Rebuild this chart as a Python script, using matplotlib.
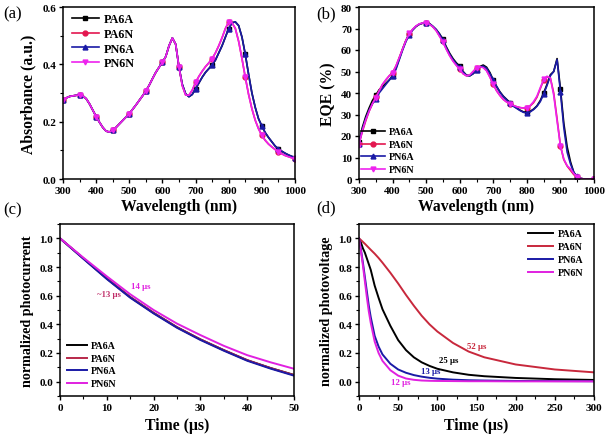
import numpy as np
import matplotlib.pyplot as plt

plt.rcParams['font.family'] = ['Liberation Serif', 'DejaVu Serif']
plt.rcParams['font.weight'] = 'bold'

names = ['PA6A', 'PA6N', 'PN6A', 'PN6N']
colors = ['#000000', '#e3174f', '#1a1aa6', '#ee22ee']
markers = ['s', 'o', '^', 'v']

# (a) absorbance, 300-1000 nm in 10 nm steps
wl = np.arange(300, 1001, 10)
abs_common = [0.275, 0.283, 0.288, 0.290, 0.292, 0.293, 0.290, 0.280, 0.262, 0.240,
              0.218, 0.198, 0.180, 0.167, 0.164, 0.170, 0.180, 0.192, 0.204, 0.216,
              0.228, 0.243, 0.258, 0.274, 0.290, 0.307, 0.327, 0.350, 0.372, 0.390,
              0.407, 0.427, 0.465, 0.492, 0.470, 0.390]
abs_A_tail = [0.330, 0.297, 0.287, 0.295, 0.315, 0.335, 0.355, 0.372, 0.385, 0.398,
              0.415, 0.440, 0.465, 0.495, 0.525, 0.545, 0.548, 0.535, 0.495, 0.435,
              0.365, 0.300, 0.250, 0.210, 0.185, 0.162, 0.145, 0.130, 0.115, 0.105,
              0.097, 0.090, 0.084, 0.079, 0.075]
abs_N_tail = [0.325, 0.293, 0.292, 0.310, 0.337, 0.358, 0.376, 0.392, 0.405, 0.420,
              0.440, 0.465, 0.493, 0.525, 0.548, 0.545, 0.525, 0.480, 0.420, 0.355,
              0.295, 0.245, 0.205, 0.175, 0.152, 0.135, 0.122, 0.112, 0.103, 0.095,
              0.088, 0.082, 0.078, 0.074, 0.070]
abs_PA6A = abs_common + abs_A_tail
abs_PA6N = abs_common + abs_N_tail
abs_PN6A = abs_common + abs_A_tail
abs_PN6N = abs_common + abs_N_tail

# (b) EQE (%)
eqe_PA6A = [17, 24, 29, 33, 36.5, 39, 41.5, 43, 44.5, 46,
            48, 51.5, 56, 60.5, 64.5, 67.5, 69.5, 71, 72, 72.5,
            72.7, 72.3, 71, 69.5, 67.5, 65, 61.5, 58.5, 56, 54,
            52.5, 50, 48.3, 48, 49, 50.5, 52.3, 53, 52, 49.5,
            46, 43, 40.5, 38.5, 37, 35.5, 34, 33, 32, 31.2,
            31, 31.5, 32.5, 34, 36.5, 40, 44, 48.5, 50, 56,
            42, 26, 15, 8, 3, 1, 0.3, 0, 0, 0, 0]
eqe_PA6N = [16.5, 22, 27, 31.5, 35, 38, 41, 44, 46, 48,
            49.5, 52.5, 56.5, 60.5, 64.5, 67.5, 69.5, 71, 72, 72.5,
            72.5, 72, 70.8, 69, 66.5, 64, 60.5, 57.5, 55, 53,
            51, 49, 48, 48.3, 50, 51.5, 52.2, 52, 50.5, 47.5,
            44, 41, 38.8, 37, 35.8, 35, 34.2, 33.6, 33.2, 33,
            33.2, 34, 35.5, 38, 42, 46, 47.5, 47, 40, 28,
            15.5, 9, 6, 4, 2, 0.8, 0.2, 0, 0, 0, 0]
eqe_PN6A = [16.5, 23, 28, 32, 35, 37.3, 40, 42, 44, 46,
            47.8, 51, 55.5, 60, 64, 67, 69.3, 71, 72, 72.5,
            72.6, 72.2, 71, 69.5, 67.3, 64.5, 61, 58, 55.5, 53.5,
            52, 49.8, 48.2, 48, 49, 50.5, 52, 52.5, 51.5, 49,
            46, 43, 40.3, 38.3, 36.8, 35.2, 33.8, 32.8, 31.8, 31,
            30.8, 31.2, 32.3, 33.8, 36, 39.5, 43.5, 48, 50, 55.5,
            40.5, 24, 12.5, 7, 3, 1.2, 0.3, 0, 0, 0, 0]
eqe_PN6N = [16, 22.5, 27.5, 31.5, 35, 37.8, 41, 44, 46.2, 48,
            49.4, 52.5, 56.5, 60.5, 64.5, 67.7, 69.7, 71.2, 72.2, 72.6,
            72.5, 72, 70.8, 69, 66.3, 63.7, 60.3, 57.3, 54.8, 52.8,
            51, 49, 48, 48.4, 50, 51.7, 52.2, 51.8, 50.3, 47.3,
            44, 41, 38.8, 37, 35.8, 35, 34.2, 33.6, 33.2, 33,
            33.2, 34.2, 36, 38.5, 42.5, 46.3, 47.8, 47, 39, 27,
            15.5, 9.3, 6.2, 4.7, 2.5, 1, 0.3, 0, 0, 0, 0]

# (c) transient photocurrent
t_c = [0, 5, 10, 15, 20, 25, 30, 35, 40, 45, 50]
tpc_PA6A = [1.0, 0.86, 0.72, 0.59, 0.48, 0.38, 0.295, 0.22, 0.15, 0.095, 0.047]
tpc_PA6N = [1.0, 0.86, 0.72, 0.59, 0.48, 0.38, 0.295, 0.22, 0.15, 0.095, 0.046]
tpc_PN6A = [1.0, 0.857, 0.716, 0.586, 0.476, 0.376, 0.291, 0.216, 0.146, 0.091, 0.042]
tpc_PN6N = [1.0, 0.865, 0.735, 0.61, 0.50, 0.405, 0.325, 0.25, 0.185, 0.135, 0.09]

# (d) transient photovoltage
t_d = [0, 2.5, 5, 7.5, 10, 12.5, 15, 20, 25, 30, 40, 50, 60, 70, 80, 90, 100,
       120, 140, 160, 200, 250, 300]
tpv_PA6A = [1.0, 0.97, 0.93, 0.90, 0.86, 0.82, 0.78, 0.67, 0.585, 0.505, 0.39, 0.29, 0.22,
            0.17, 0.135, 0.11, 0.09, 0.065, 0.048, 0.038, 0.026, 0.017, 0.012]
tpv_PA6N = [1.0, 0.988, 0.975, 0.962, 0.948, 0.934, 0.92, 0.893, 0.863, 0.83, 0.76, 0.685,
            0.605, 0.53, 0.46, 0.40, 0.35, 0.27, 0.21, 0.17, 0.12, 0.085, 0.065]
tpv_PN6A = [1.0, 0.92, 0.83, 0.73, 0.63, 0.53, 0.45, 0.32, 0.245, 0.19, 0.125, 0.085, 0.062,
            0.046, 0.035, 0.027, 0.021, 0.014, 0.01, 0.008, 0.005, 0.004, 0.003]
tpv_PN6N = [1.0, 0.91, 0.81, 0.70, 0.59, 0.49, 0.41, 0.28, 0.20, 0.145, 0.08, 0.042, 0.022,
            0.013, 0.008, 0.006, 0.005, 0.004, 0.003, 0.003, 0.002, 0.002, 0.002]

W, H = 608, 439
fig = plt.figure(figsize=(W / 100, H / 100), dpi=100)


def rect(l, t, r, b):
    return [l / W, 1 - b / H, (r - l) / W, (b - t) / H]


def figpt(x, y):
    return (x / W, 1 - y / H)


def style(ax):
    for s in ax.spines.values():
        s.set_linewidth(1.1)
    ax.tick_params(direction='out', length=3, width=1, labelsize=8, pad=2)
    ax.tick_params(which='minor', direction='out', length=2, width=0.8)
    for lab in ax.get_xticklabels() + ax.get_yticklabels():
        lab.set_fontweight('bold')


lbl = dict(fontsize=11.3, fontweight='bold')
leg = dict(frameon=False, borderpad=0, borderaxespad=0, handletextpad=0.4)

# (a)
ax = fig.add_axes(rect(63, 8, 295, 180))
mk = [i for i, w in enumerate(wl) if w % 50 == 0]
for y, n, c, m in zip([abs_PA6A, abs_PA6N, abs_PN6A, abs_PN6N], names, colors, markers):
    ax.plot(wl, y, color=c, lw=1.2, marker=m, ms=3.5, markevery=mk, label=n)
ax.set_xlim(300, 1000)
ax.set_ylim(0, 0.6)
ax.set_xticks(range(300, 1001, 100))
ax.set_xticks(range(350, 1000, 100), minor=True)
ax.set_yticks([0.0, 0.2, 0.4, 0.6])
ax.set_yticks([0.1, 0.3, 0.5], minor=True)
ax.set_xlabel('Wavelength (nm)', labelpad=2, **lbl)
ax.set_ylabel('Absorbance (a.u.)', labelpad=4, **lbl)
ax.legend(loc='upper left', bbox_to_anchor=figpt(72, 14), bbox_transform=fig.transFigure,
          prop=dict(size=8.7, weight='bold'), handlelength=2.2, labelspacing=0.23, **leg)
style(ax)
fig.text(3 / W, 1 - 14 / H, '(a)', fontsize=12, fontweight='normal', va='center')

# (b)
ax = fig.add_axes(rect(359, 8, 594, 180))
for y, n, c, m in zip([eqe_PA6A, eqe_PA6N, eqe_PN6A, eqe_PN6N], names, colors, markers):
    ax.plot(wl, y, color=c, lw=1.2, marker=m, ms=3.5, markevery=mk, label=n)
ax.set_xlim(300, 1000)
ax.set_ylim(0, 80)
ax.set_xticks(range(300, 1001, 100))
ax.set_xticks(range(350, 1000, 100), minor=True)
ax.set_yticks(range(0, 81, 10))
ax.set_xlabel('Wavelength (nm)', labelpad=2, **lbl)
ax.set_ylabel('EQE (%)', labelpad=3, **lbl)
ax.legend(loc='lower left', bbox_to_anchor=figpt(361, 175), bbox_transform=fig.transFigure,
          prop=dict(size=7.2, weight='bold'), handlelength=2.4, labelspacing=0.35, **leg)
style(ax)
fig.text(316 / W, 1 - 14 / H, '(b)', fontsize=12, fontweight='normal', va='center')

# (c)
ax = fig.add_axes(rect(60, 225, 294, 397))
ccols = ['#000000', '#b8284a', '#1a1aa6', '#e020e0']
for y, n, c in zip([tpc_PA6A, tpc_PA6N, tpc_PN6A, tpc_PN6N], names, ccols):
    ax.plot(t_c, y, color=c, lw=1.4, label=n)
ax.set_xlim(0, 50)
ax.set_ylim(-0.1, 1.1)
ax.set_xticks(range(0, 51, 10))
ax.set_xticks(range(5, 50, 10), minor=True)
ax.set_yticks([0.0, 0.2, 0.4, 0.6, 0.8, 1.0])
ax.set_yticks([-0.1, 0.1, 0.3, 0.5, 0.7, 0.9, 1.1], minor=True)
ax.set_xlabel('Time (\u03bcs)', labelpad=4, **lbl)
ax.set_ylabel('normalized photocurrent', labelpad=4, fontsize=10.2, fontweight='bold')
ax.text(7.8, 0.61, '~13 \u03bcs', color='#c0306a', fontsize=6.3, fontweight='bold', va='center')
ax.text(15.1, 0.67, '14 \u03bcs', color='#e020e0', fontsize=6.3, fontweight='bold', va='center')
ax.legend(loc='lower left', bbox_to_anchor=figpt(67, 389), bbox_transform=fig.transFigure,
          prop=dict(size=7.2, weight='bold'), handlelength=2.0, labelspacing=0.35, **leg)
style(ax)
fig.text(3 / W, 1 - 210 / H, '(c)', fontsize=12, fontweight='normal', va='center')

# (d)
ax = fig.add_axes(rect(359, 225, 594, 397))
dcols = ['#000000', '#c8283c', '#1a1aa6', '#e020e0']
for y, n, c in zip([tpv_PA6A, tpv_PA6N, tpv_PN6A, tpv_PN6N], names, dcols):
    ax.plot(t_d, y, color=c, lw=1.4, label=n)
ax.set_xlim(0, 300)
ax.set_ylim(-0.1, 1.1)
ax.set_xticks(range(0, 301, 50))
ax.set_xticks(range(25, 300, 50), minor=True)
ax.set_yticks([0.0, 0.2, 0.4, 0.6, 0.8, 1.0])
ax.set_yticks([-0.1, 0.1, 0.3, 0.5, 0.7, 0.9, 1.1], minor=True)
ax.set_xlabel('Time (\u03bcs)', labelpad=4, **lbl)
ax.set_ylabel('normalized photovoltage', labelpad=4, fontsize=10.2, fontweight='bold')
ax.text(138, 0.25, '52 \u03bcs', color='#c8283c', fontsize=6.3, fontweight='bold', va='center')
ax.text(102, 0.15, '25 \u03bcs', color='#000000', fontsize=6.3, fontweight='bold', va='center')
ax.text(79, 0.075, '13 \u03bcs', color='#1a1aa6', fontsize=6.3, fontweight='bold', va='center')
ax.text(41, -0.005, '12 \u03bcs', color='#e020e0', fontsize=6.3, fontweight='bold', va='center')
ax.legend(loc='upper right', bbox_to_anchor=figpt(583, 230), bbox_transform=fig.transFigure,
          prop=dict(size=7.2, weight='bold'), handlelength=2.5, labelspacing=0.4, **leg)
style(ax)
fig.text(316 / W, 1 - 208 / H, '(d)', fontsize=12, fontweight='normal', va='center')

fig.savefig('out.png', dpi=100)
